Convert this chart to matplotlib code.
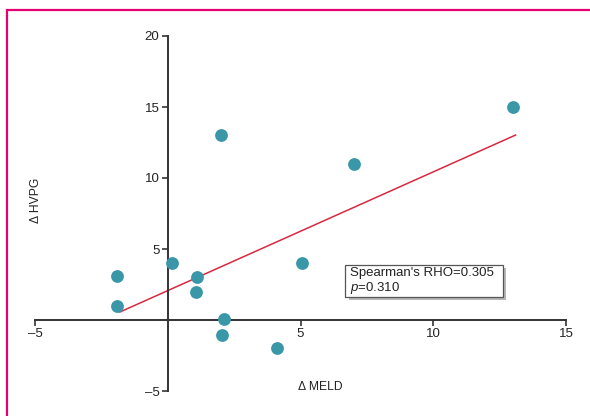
import numpy as np
import matplotlib
matplotlib.use("Agg")
import matplotlib.pyplot as plt
from matplotlib.patches import Rectangle

plt.rcParams['font.family'] = ['Liberation Sans', 'DejaVu Sans']
plt.rcParams['mathtext.fontset'] = 'custom'
plt.rcParams['mathtext.it'] = 'Liberation Sans:italic'
plt.rcParams['mathtext.rm'] = 'Liberation Sans'

# data
delta_meld = [13.0, 2.0, 7.0, -1.9, -1.9, 0.15, 1.1, 1.05, 2.1, 2.05, 4.1, 5.05]
delta_hvpg = [15.0, 13.0, 11.0, 3.1, 1.0, 4.0, 3.05, 1.95, 0.05, -1.05, -2.0, 4.0]
x_ticks = [-5, 5, 10, 15]
y_ticks = [-5, 5, 10, 15, 20]
rho_text = "Spearman's RHO=0.305"
p_text = "$p$=0.310"

point_color = '#3a97a8'
line_color = '#d9283f'
axis_color = '#333333'

fig = plt.figure(figsize=(5.9, 4.16), dpi=100)
ax = fig.add_axes([35 / 590, 25 / 416, 531 / 590, 355 / 416])

# magenta frame (partially cropped at right and bottom)
fig.patches.append(Rectangle((7 / 590, -0.1), 1.2, 1 - 10 / 416 + 0.1,
                             transform=fig.transFigure, fill=False,
                             edgecolor='#e4006f', linewidth=1.6, clip_on=False))

ax.scatter(delta_meld, delta_hvpg, s=85, color=point_color, zorder=3,
           linewidths=0)

# least-squares fit line over the range of the data
slope, icpt = np.polyfit(delta_meld, delta_hvpg, 1)
xs = np.array([min(delta_meld) + 0.1, max(delta_meld) + 0.1])
ax.plot(xs, slope * xs + icpt, color=line_color, linewidth=1.1, zorder=2)

ax.set_xlim(-5, 15)
ax.set_ylim(-5, 20)
ax.spines['left'].set_position(('data', 0))
ax.spines['bottom'].set_position(('data', 0))
ax.spines['right'].set_visible(False)
ax.spines['top'].set_visible(False)
for sp in ('left', 'bottom'):
    ax.spines[sp].set_color(axis_color)
    ax.spines[sp].set_linewidth(1.4)
ax.spines['bottom'].set_bounds(-5, 15)
ax.spines['left'].set_bounds(-5, 20)

ax.set_xticks(x_ticks)
ax.set_xticklabels(['\u2013' + str(abs(t)) if t < 0 else str(t) for t in x_ticks])
ax.set_yticks(y_ticks)
ax.set_yticklabels(['\u2013' + str(abs(t)) if t < 0 else str(t) for t in y_ticks])
ax.tick_params(axis='both', direction='out', length=4, width=1.2,
               color=axis_color, labelsize=9.5, labelcolor='#222222', pad=2)

ax.text(-4.95, 8.45, '\u0394 HVPG', rotation=90, ha='center', va='center',
        fontsize=8.7, color='#222222')
ax.text(5.75, -4.7, '\u0394 MELD', ha='center', va='center',
        fontsize=8.7, color='#222222')

# annotation box with drop shadow
bx0, by0, bw, bh = 6.69, 1.62, 5.94, 2.25
ax.add_patch(Rectangle((bx0 + 0.12, by0 - 0.22), bw, bh, facecolor='#b8b8b8',
                       edgecolor='none', zorder=4))
ax.add_patch(Rectangle((bx0, by0), bw, bh, facecolor='white',
                       edgecolor='#555555', linewidth=0.9, zorder=5))
ax.text(bx0 + 0.18, by0 + 1.7, rho_text, fontsize=9.5, va='center', zorder=6,
        color='#222222')
ax.text(bx0 + 0.18, by0 + 0.6, p_text, fontsize=9.5, va='center', zorder=6,
        color='#222222')

fig.savefig('out.png', dpi=100)
